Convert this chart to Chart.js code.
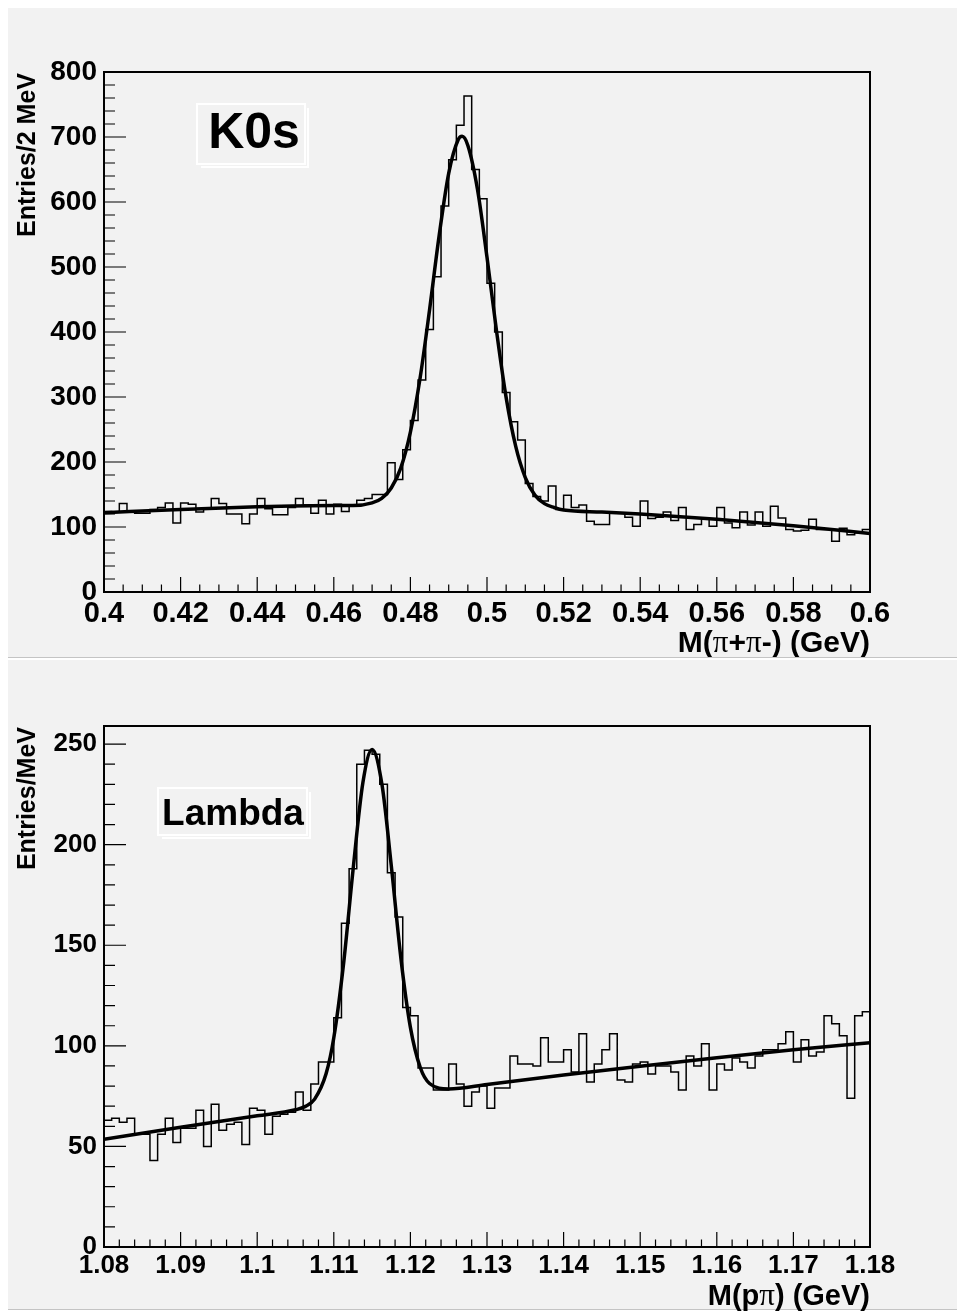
<!DOCTYPE html>
<html>
<head>
<meta charset="utf-8">
<script src="https://cdn.jsdelivr.net/npm/chart.js@4.4.1/dist/chart.umd.min.js"></script>
<style>
  html, body { margin: 0; padding: 0; background: #fff; }
  body { width: 957px; height: 1315px; position: relative; overflow: hidden; }
  .pad { position: absolute; left: 8px; right: 0; background: #f2f2f2; }
  #pad1 { top: 8px; height: 649px; border-bottom: 1px solid #c4c4c4; }
  #pad2 { top: 660px; height: 649px; border-bottom: 1px solid #c4c4c4; }
  canvas { position: absolute; left: 0; }
  #k0sChart { top: 0; }
  #lambdaChart { top: 658px; }
</style>
</head>
<body>
<div class="pad" id="pad1"></div>
<div class="pad" id="pad2"></div>
<canvas id="k0sChart" width="957" height="657"></canvas>
<canvas id="lambdaChart" width="957" height="657"></canvas>
<script>
// ---- K0s : M(pi+pi-), 100 bins of 2 MeV from 0.4 to 0.6 GeV ----
const k0sLow = 0.4;
const k0sBinWidth = 0.002;
const k0sCounts = [
  124, 123, 136, 124, 121, 121, 127, 130, 137, 106,
  137, 135, 123, 128, 144, 136, 120, 120, 105, 120,
  144, 128, 119, 119, 130, 144, 134, 121, 141, 120,
  135, 124, 133, 141, 144, 150, 150, 199, 173, 219,
  264, 326, 404, 485, 594, 665, 718, 763, 650, 605,
  475, 400, 307, 262, 234, 167, 147, 140, 163, 127,
  149, 130, 134, 109, 104, 104, 122, 122, 115, 101,
  140, 113, 115, 123, 110, 130, 96, 104, 112, 101,
  130, 106, 99, 123, 103, 123, 101, 132, 114, 96,
  94, 95, 112, 96, 96, 78, 98, 88, 91, 96
];
// fitted curve (gaussian + background)
const k0sFitMass = [0.400, 0.420, 0.440, 0.460, 0.465, 0.470, 0.4725, 0.475, 0.4775, 0.480,
  0.4825, 0.485, 0.4875, 0.490, 0.4925, 0.4935, 0.495, 0.4975, 0.500, 0.5025, 0.505, 0.5075,
  0.510, 0.5125, 0.515, 0.5175, 0.520, 0.530, 0.540, 0.560, 0.580, 0.600];
const k0sFitValue = [122, 127, 131, 133, 133, 137, 144, 160, 191, 246,
  328, 434, 548, 644, 696, 701, 687, 620, 515, 401, 299, 224,
  176, 149, 136, 130, 126, 123, 120, 112, 102, 90];
const k0sXTicks = ['0.4', '0.42', '0.44', '0.46', '0.48', '0.5', '0.52', '0.54', '0.56', '0.58', '0.6'];
const k0sYTicks = ['0', '100', '200', '300', '400', '500', '600', '700', '800'];

// ---- Lambda : M(p pi), 100 bins of 1 MeV from 1.08 to 1.18 GeV ----
const lambdaLow = 1.08;
const lambdaBinWidth = 0.001;
const lambdaCounts = [
  63, 64, 62, 64, 56, 56, 43, 56, 64, 52,
  59, 59, 68, 50, 71, 58, 61, 62, 51, 69,
  68, 56, 65, 66, 67, 77, 68, 81, 92, 92,
  114, 161, 188, 240, 247, 245, 230, 186, 164, 119,
  115, 89, 89, 78, 78, 91, 81, 70, 77, 80,
  69, 79, 79, 95, 91, 91, 90, 104, 92, 92,
  98, 87, 106, 82, 91, 98, 106, 83, 82, 91,
  92, 86, 90, 90, 87, 78, 95, 90, 101, 78,
  91, 88, 94, 92, 89, 95, 98, 98, 101, 107,
  92, 103, 95, 97, 115, 111, 105, 74, 115, 117
];
const lambdaFitMass = [1.080, 1.090, 1.100, 1.1050, 1.1063, 1.1075, 1.1090, 1.1100, 1.1113, 1.1125,
  1.1138, 1.1150, 1.1163, 1.1175, 1.1188, 1.1200, 1.1213, 1.1225, 1.1250, 1.130,
  1.140, 1.150, 1.160, 1.170, 1.180];
const lambdaFitValue = [53.5, 59.5, 65.2, 68.2, 69.9, 73.5, 86.2, 104, 141.7, 187,
  230.9, 247.3, 229.6, 189.7, 142.2, 109.2, 89.1, 81.3, 78.6, 80.8,
  85.5, 89.9, 94.1, 98.0, 101.6];
const lambdaXTicks = ['1.08', '1.09', '1.1', '1.11', '1.12', '1.13', '1.14', '1.15', '1.16', '1.17', '1.18'];
const lambdaYTicks = ['0', '50', '100', '150', '200', '250'];

const SANS = '"Liberation Sans", Arial, Helvetica, sans-serif';
const SERIF = '"Liberation Serif", "Times New Roman", serif';

// one point per bin low edge, plus the upper edge of the last bin
function histPoints(low, width, counts) {
  const pts = counts.map((c, i) => ({ x: low + i * width, y: c }));
  pts.push({ x: low + counts.length * width, y: counts[counts.length - 1] });
  return pts;
}

function drawRich(ctx, parts, xRight, y) {
  let total = 0;
  parts.forEach(p => { ctx.font = p.font; total += ctx.measureText(p.t).width; });
  let x = xRight - total;
  ctx.textAlign = 'left';
  parts.forEach(p => { ctx.font = p.font; ctx.fillText(p.t, x, y); x += ctx.measureText(p.t).width; });
}

// ROOT-like frame: ticks inside, bold labels, pave label
function rootAxes(st) {
  return {
    id: 'rootAxes',
    afterDatasetsDraw(chart) {
      const ctx = chart.ctx, a = chart.chartArea;
      const xs = chart.scales.x, ys = chart.scales.y;
      ctx.save();
      ctx.strokeStyle = '#000';
      ctx.fillStyle = '#000';

      ctx.lineWidth = 1.2;
      ctx.beginPath();
      const xv = st.xTicks.map(Number);
      xv.forEach((v, i) => {
        const p = xs.getPixelForValue(v);
        ctx.moveTo(p, a.bottom); ctx.lineTo(p, a.bottom - 15);
        if (i < xv.length - 1) {
          for (let k = 1; k < st.xDiv; k++) {
            const q = xs.getPixelForValue(v + (xv[i + 1] - v) * k / st.xDiv);
            ctx.moveTo(q, a.bottom); ctx.lineTo(q, a.bottom - 7.5);
          }
        }
      });
      const yv = st.yTicks.map(Number);
      yv.forEach((v, i) => {
        const p = ys.getPixelForValue(v);
        ctx.moveTo(a.left, p); ctx.lineTo(a.left + 22, p);
        const next = i < yv.length - 1 ? yv[i + 1] : v + (v - yv[i - 1]);
        for (let k = 1; k < st.yDiv; k++) {
          const val = v + (next - v) * k / st.yDiv;
          if (val > ys.max) break;
          const q = ys.getPixelForValue(val);
          ctx.moveTo(a.left, q); ctx.lineTo(a.left + 11, q);
        }
      });
      ctx.stroke();

      ctx.lineWidth = 2;
      ctx.strokeRect(a.left, a.top, a.right - a.left, a.bottom - a.top);

      // tick labels
      ctx.textBaseline = 'alphabetic';
      ctx.textAlign = 'center';
      ctx.font = 'bold ' + st.xFont + 'px ' + SANS;
      st.xTicks.forEach(t => ctx.fillText(t, xs.getPixelForValue(Number(t)), a.bottom + st.xLabelDy));
      ctx.textAlign = 'right';
      ctx.textBaseline = 'middle';
      ctx.font = 'bold ' + st.yFont + 'px ' + SANS;
      st.yTicks.forEach(t => ctx.fillText(t, a.left - 7, ys.getPixelForValue(Number(t))));

      // axis titles
      ctx.textBaseline = 'alphabetic';
      drawRich(ctx, st.xTitle, a.right, a.bottom + st.xTitleDy);
      ctx.save();
      ctx.translate(st.yTitleX, a.top + 1);
      ctx.rotate(-Math.PI / 2);
      ctx.textAlign = 'right';
      ctx.font = 'bold ' + st.yTitleFont + 'px ' + SANS;
      ctx.fillText(st.yTitle, 0, 0);
      ctx.restore();

      // pave with the particle name
      const b = st.pave.box;
      ctx.strokeStyle = '#ffffff';
      ctx.lineWidth = 2;
      ctx.strokeRect(a.left + b[0], a.top + b[1], b[2] - b[0], b[3] - b[1]);
      ctx.beginPath();
      ctx.moveTo(a.left + b[0] + 4, a.top + b[3] + 3);
      ctx.lineTo(a.left + b[2] + 3, a.top + b[3] + 3);
      ctx.lineTo(a.left + b[2] + 3, a.top + b[1] + 4);
      ctx.stroke();
      ctx.fillStyle = '#000';
      ctx.textAlign = 'center';
      ctx.font = 'bold ' + st.pave.font + 'px ' + SANS;
      ctx.fillText(st.pave.text, a.left + st.pave.x, a.top + st.pave.y);
      ctx.restore();
    }
  };
}

function makePanel(canvasId, hist, fit, xRange, yRange, padding, st) {
  return new Chart(document.getElementById(canvasId), {
    type: 'line',
    data: {
      datasets: [
        {
          label: 'data',
          data: hist,
          stepped: 'before',
          borderColor: '#000',
          borderWidth: 1.5,
          pointRadius: 0,
          fill: false
        },
        {
          label: 'fit',
          data: fit,
          borderColor: '#000',
          borderWidth: 3.5,
          pointRadius: 0,
          cubicInterpolationMode: 'monotone',
          fill: false
        }
      ]
    },
    options: {
      responsive: false,
      animation: false,
      devicePixelRatio: 1,
      layout: { padding: padding },
      plugins: { legend: { display: false }, tooltip: { enabled: false } },
      scales: {
        x: { type: 'linear', min: xRange[0], max: xRange[1], display: false },
        y: { type: 'linear', min: yRange[0], max: yRange[1], display: false }
      }
    },
    plugins: [rootAxes(st)]
  });
}

makePanel('k0sChart',
  histPoints(k0sLow, k0sBinWidth, k0sCounts),
  k0sFitMass.map((m, i) => ({ x: m, y: k0sFitValue[i] })),
  [0.4, 0.6], [0, 800],
  { left: 104, top: 72, right: 87, bottom: 65 },
  {
    xTicks: k0sXTicks, yTicks: k0sYTicks, xDiv: 4, yDiv: 5,
    xFont: 29, yFont: 28, xLabelDy: 30, xTitleDy: 60,
    xTitle: [
      { t: 'M(', font: 'bold 30px ' + SANS },
      { t: '\u03c0', font: '31px ' + SERIF },
      { t: '+', font: 'bold 30px ' + SANS },
      { t: '\u03c0', font: '31px ' + SERIF },
      { t: '-) (GeV)', font: 'bold 30px ' + SANS }
    ],
    yTitle: 'Entries/2 MeV', yTitleFont: 25, yTitleX: 35,
    pave: { text: 'K0s', font: 50, box: [93, 32, 201, 92], x: 150, y: 76 }
  });

makePanel('lambdaChart',
  histPoints(lambdaLow, lambdaBinWidth, lambdaCounts),
  lambdaFitMass.map((m, i) => ({ x: m, y: lambdaFitValue[i] })),
  [1.08, 1.18], [0, 259],
  { left: 104, top: 68, right: 87, bottom: 68 },
  {
    xTicks: lambdaXTicks, yTicks: lambdaYTicks, xDiv: 5, yDiv: 5,
    xFont: 26, yFont: 26, xLabelDy: 26, xTitleDy: 58,
    xTitle: [
      { t: 'M(p', font: 'bold 29px ' + SANS },
      { t: '\u03c0', font: '31px ' + SERIF },
      { t: ') (GeV)', font: 'bold 29px ' + SANS }
    ],
    yTitle: 'Entries/MeV', yTitleFont: 25, yTitleX: 35,
    pave: { text: 'Lambda', font: 37, box: [54, 62, 203, 109], x: 129, y: 99 }
  });
</script>
</body>
</html>
